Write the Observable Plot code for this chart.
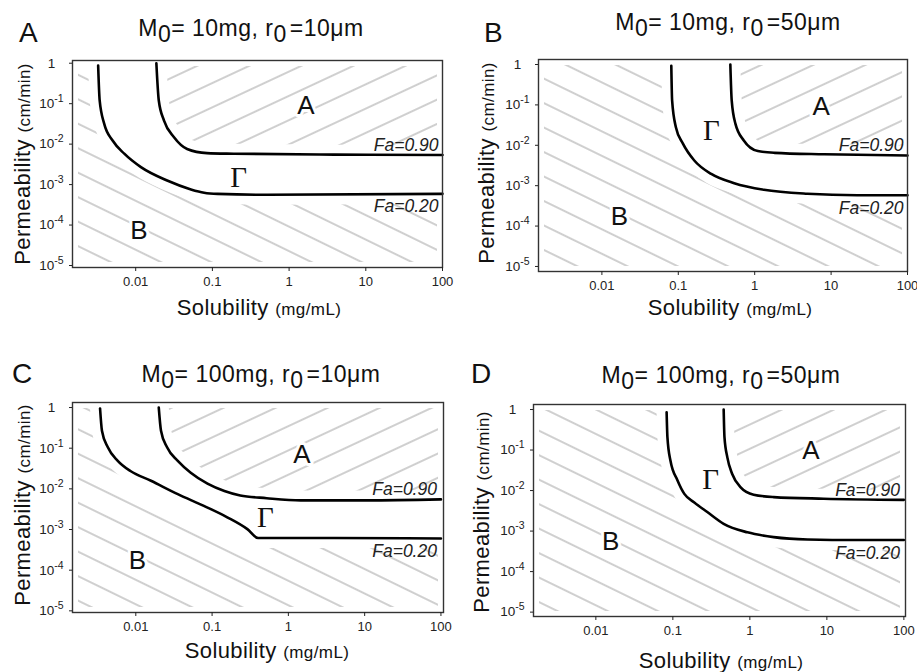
<!DOCTYPE html>
<html><head><meta charset="utf-8">
<script src="https://cdn.jsdelivr.net/npm/d3@7"></script>
<script src="https://cdn.jsdelivr.net/npm/@observablehq/plot@0.6"></script>
<style>
body{margin:0;background:#fff;}
#wrap{position:relative;width:917px;height:672px;overflow:hidden;font-family:"Liberation Sans",Arial,Helvetica,sans-serif;}
.panel{position:absolute;}
#overlay{position:absolute;left:0;top:0;pointer-events:none;}
</style></head>
<body>
<svg width="0" height="0" style="position:absolute">
<defs>
<pattern id="hatchUp" patternUnits="userSpaceOnUse" width="12" height="22" patternTransform="rotate(-25)"><line x1="-2" y1="11" x2="14" y2="11" stroke="#a0a0a0" stroke-width="1"/></pattern>
<pattern id="hatchDown" patternUnits="userSpaceOnUse" width="12" height="22" patternTransform="rotate(26)"><line x1="-2" y1="11" x2="14" y2="11" stroke="#a0a0a0" stroke-width="1"/></pattern>
</defs></svg>
<div id="wrap"></div>
<script>
// ---------- data ----------
const panelLetters = ["A", "B", "C", "D"];
const titleMass = ["10mg", "10mg", "100mg", "100mg"];
const titleRadius = ["10μm", "50μm", "10μm", "50μm"];
const xLabelMain = "Solubility", xLabelUnit = "(mg/mL)";
const yLabelMain = "Permeability", yLabelUnit = "(cm/min)";
const faLabels = ["Fa=0.90", "Fa=0.20"];
const regionLabels = ["A", "Γ", "B"];

const xTicks = [0.01, 0.1, 1, 10, 100];
const xTickLabels = ["0.01", "0.1", "1", "10", "100"];
const yTicks = [1, 0.1, 0.01, 0.001, 0.0001, 0.00001];
const yTickLabels = ["1", "10^-1", "10^-2", "10^-3", "10^-4", "10^-5"];

const xDomains = [[0.0015, 100], [0.00148, 100], [0.00148, 108], [0.00155, 105]];
const yDomains = [[8.93e-6, 1.167], [7.5e-6, 1.33], [9.1e-6, 1.33], [7.8e-6, 1.33]];

// [solubility mg/mL, permeability cm/min]
const fa90A = [[0.0186,1.0],[0.0200,0.12],[0.0234,0.038],[0.0316,0.0148],[0.0468,0.0076],[0.085,0.0060],[0.19,0.0058],[3.9,0.0055],[100,0.0054]];
const fa20A = [[0.00324,0.87],[0.00339,0.12],[0.00389,0.0316],[0.0050,0.0123],[0.0071,0.0058],[0.0117,0.0027],[0.0257,0.00126],[0.0525,0.00076],[0.078,0.00063],[0.117,0.00059],[0.52,0.00056],[100,0.00059]];
const fa90B = [[0.48,1.0],[0.50,0.129],[0.56,0.034],[0.72,0.0132],[1.10,0.0072],[1.82,0.0065],[8.1,0.0060],[100,0.0056]];
const fa20B = [[0.081,0.93],[0.083,0.129],[0.093,0.028],[0.115,0.011],[0.162,0.0042],[0.27,0.00195],[0.54,0.00115],[1.32,0.00079],[4.9,0.00063],[22,0.00058],[100,0.00058]];
const fa90C = [[0.020,1.0],[0.0214,0.27],[0.0257,0.105],[0.0355,0.049],[0.0525,0.025],[0.087,0.0135],[0.145,0.0089],[0.234,0.0069],[0.52,0.0059],[1.45,0.0052],[10.7,0.0052],[100,0.0055]];
const fa20C = [[0.0034,0.95],[0.0036,0.27],[0.0043,0.105],[0.0058,0.049],[0.0085,0.0275],[0.0158,0.0158],[0.0355,0.0074],[0.078,0.0038],[0.158,0.0020],[0.29,0.00102],[0.40,0.00062],[4.0,0.00062],[100,0.0006]];
const fa90D = [[0.457,1.0],[0.468,0.209],[0.51,0.066],[0.59,0.0257],[0.76,0.012],[1.12,0.0079],[2.04,0.0069],[9.1,0.0063],[100,0.0059]];
const fa20D = [[0.083,0.85],[0.085,0.209],[0.093,0.055],[0.115,0.0178],[0.141,0.0083],[0.19,0.0051],[0.28,0.00295],[0.457,0.00151],[0.93,0.00093],[2.04,0.00071],[5.6,0.00062],[24.5,0.0006],[100,0.0006]];
const fa90 = [fa90A, fa90B, fa90C, fa90D];
const fa20 = [fa20A, fa20B, fa20C, fa20D];

const posRegionA = [[1.66,0.09],[7.4,0.089],[1.5,0.071],[6.2,0.098]];
const posGamma = [[0.22,0.0015],[0.27,0.023],[0.5,0.002],[0.31,0.018]];
const posRegionB = [[0.011,7.4e-5],[0.017,1.7e-4],[0.0105,1.7e-4],[0.0156,5.4e-4]];

// ---------- layout ----------
const layout = [
  {left:0, top:0, width:458, height:330, mt:60, ml:72, mr:16, mb:63},
  {left:458, top:0, width:459, height:330, mt:59, ml:80, mr:10, mb:59},
  {left:0, top:330, width:458, height:342, mt:72, ml:72, mr:15, mb:60},
  {left:458, top:330, width:459, height:342, mt:74, ml:75, mr:12, mb:56}
];
const textLayout = [
  {lx:19, ly:42, tx:251, ty:36, xx:259, xy:315, yx:30, yy:164},
  {lx:484, ly:42, tx:728, ty:30, xx:730, xy:315, yx:494, yy:163},
  {lx:12, ly:383, tx:261, ty:382, xx:267, xy:658, yx:30, yy:505},
  {lx:471, ly:383, tx:721, ty:383, xx:721, xy:668, yx:489, yy:512}
];

const FONT = '"Liberation Sans", Arial, Helvetica, sans-serif';
const ns = "http://www.w3.org/2000/svg";
const X = d => d[0], Y = d => d[1];
const wrap = document.getElementById("wrap");
const CURVE = "monotone-x";

function panel(i) {
  const L = layout[i];
  const [xmin, xmax] = xDomains[i], [ymin, ymax] = yDomains[i];
  const c90 = fa90[i], c20 = fa20[i];
  const last90 = c90[c90.length - 1], last20 = c20[c20.length - 1];
  const areaA = [...c90, [xmax, last90[1]]];
  const areaB = [[xmin, ymax], [c20[0][0], ymax], ...c20, [xmax, last20[1]]];
  const svg = Plot.plot({
    width: L.width, height: L.height,
    marginTop: L.mt, marginLeft: L.ml, marginRight: L.mr, marginBottom: L.mb,
    x: {type: "log", domain: xDomains[i]},
    y: {type: "log", domain: yDomains[i]},
    style: {fontFamily: FONT, fontSize: "13px", color: "#222", background: "transparent", overflow: "visible"},
    marks: [
      Plot.areaY(areaA, {x: X, y1: Y, y2: () => ymax, fill: "url(#hatchUp)", clip: true}),
      Plot.areaY(areaB, {x: X, y1: () => ymin, y2: Y, fill: "url(#hatchDown)", clip: true}),
      Plot.line(c90, {x: X, y: Y, stroke: "white", strokeWidth: 20, curve: CURVE, clip: true}),
      Plot.line(c20, {x: X, y: Y, stroke: "white", strokeWidth: 20, curve: CURVE, clip: true}),
      Plot.frame({stroke: "white", strokeWidth: 11}),
      Plot.text([posRegionA[i]], {x: X, y: Y, text: () => regionLabels[0], fontSize: 26, fill: "#111", stroke: "white", strokeWidth: 6, paintOrder: "stroke"}),
      Plot.text([posGamma[i]], {x: X, y: Y, text: () => regionLabels[1], fontSize: 29, fontFamily: '"Liberation Serif", "DejaVu Serif", serif', fill: "#111"}),
      Plot.text([posRegionB[i]], {x: X, y: Y, text: () => regionLabels[2], fontSize: 26, fill: "#111", stroke: "white", strokeWidth: 6, paintOrder: "stroke"}),
      Plot.line(c90, {x: X, y: Y, stroke: "#000", strokeWidth: 2.6, curve: CURVE}),
      Plot.line(c20, {x: X, y: Y, stroke: "#000", strokeWidth: 2.6, curve: CURVE}),
      Plot.text([last90], {x: X, y: Y, text: () => faLabels[0], textAnchor: "end", lineAnchor: "bottom", dx: -4, dy: -4, fontSize: 17.5, fontStyle: "italic", fill: "#222"}),
      Plot.text([last20], {x: X, y: Y, text: () => faLabels[1], textAnchor: "end", lineAnchor: "top", dx: -4, dy: 6, fontSize: 17.5, fontStyle: "italic", fill: "#222"}),
      Plot.frame({stroke: "#333", strokeWidth: 1.4}),
      Plot.axisX({ticks: xTicks, tickFormat: d => xTickLabels[xTicks.indexOf(d)], tickSize: 4, tickPadding: 5, label: null, fontSize: 13}),
      Plot.axisY({ticks: yTicks, tickFormat: () => "", tickSize: 3, label: null}),
      Plot.text(yTicks, {x: () => xmin, y: d => d, text: d => yTickLabels[yTicks.indexOf(d)], textAnchor: "middle", dx: -21, fontSize: 13.5, fill: "#222"})
    ]
  });
  svg.querySelectorAll("text").forEach(t => {
    const s = t.textContent;
    if (s.startsWith("10^")) {
      const [base, exp] = s.split("^");
      t.textContent = "";
      const a = document.createElementNS(ns, "tspan"); a.textContent = base;
      const b = document.createElementNS(ns, "tspan"); b.textContent = exp;
      b.setAttribute("dy", "-6"); b.setAttribute("font-size", "10.5px");
      t.append(a, b);
    }
  });
  const div = document.createElement("div");
  div.className = "panel";
  div.style.left = L.left + "px"; div.style.top = L.top + "px";
  div.appendChild(svg);
  wrap.appendChild(div);
}
for (let i = 0; i < 4; i++) panel(i);

// ---------- overlay texts ----------
const ov = d3.select(wrap).append("svg").attr("id", "overlay").attr("width", 917).attr("height", 672)
  .style("font-family", FONT).attr("fill", "#111");
textLayout.forEach((T, i) => {
  ov.append("text").attr("x", T.lx).attr("y", T.ly).attr("font-size", 28).text(panelLetters[i]);
  const t = ov.append("text").attr("x", T.tx).attr("y", T.ty).attr("text-anchor", "middle")
    .attr("font-size", 23).attr("letter-spacing", "0.5px");
  t.append("tspan").text("M");
  t.append("tspan").attr("dy", 6).text("0");
  t.append("tspan").attr("dy", -6).text("= " + titleMass[i] + ", r");
  t.append("tspan").attr("dy", 6).text("0");
  t.append("tspan").attr("dy", -6).attr("dx", 3).text("=" + titleRadius[i]);
  const xl = ov.append("text").attr("x", T.xx).attr("y", T.xy).attr("text-anchor", "middle")
    .attr("font-size", 22).attr("letter-spacing", "0.4px");
  xl.append("tspan").text(xLabelMain + " ");
  xl.append("tspan").attr("font-size", 17).text(xLabelUnit);
  const yl = ov.append("text").attr("transform", `translate(${T.yx},${T.yy}) rotate(-90)`)
    .attr("text-anchor", "middle").attr("font-size", 22).attr("letter-spacing", "0.4px");
  yl.append("tspan").text(yLabelMain + " ");
  yl.append("tspan").attr("font-size", 17).text(yLabelUnit);
});
</script>
</body></html>
